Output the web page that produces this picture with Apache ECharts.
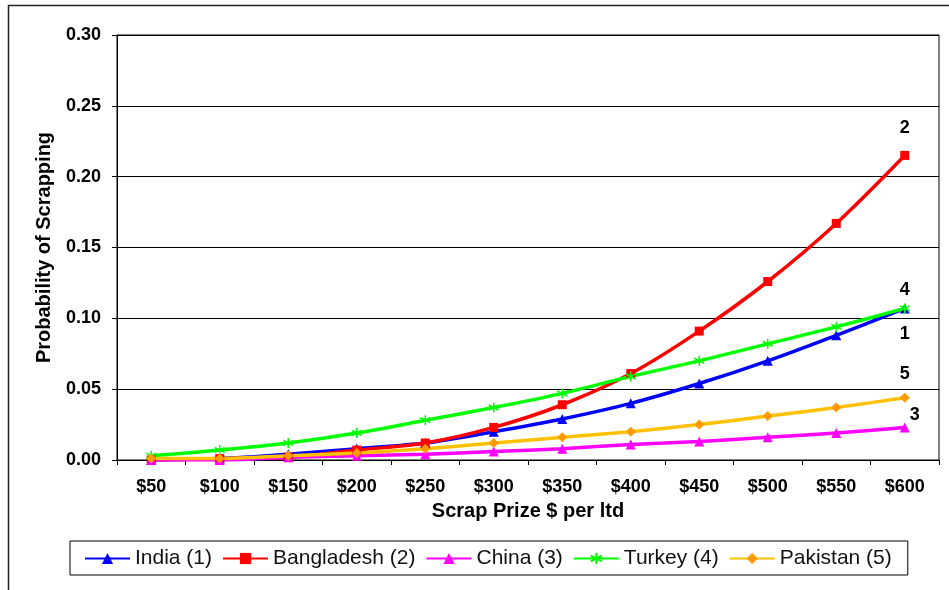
<!DOCTYPE html>
<html>
<head>
<meta charset="utf-8">
<script src="https://cdn.jsdelivr.net/npm/echarts@6/dist/echarts.min.js"></script>
<style>
  html, body { margin: 0; padding: 0; background: #fff; }
  #chart { width: 949px; height: 590px; }
</style>
</head>
<body>
<div id="chart"></div>
<script>
// Scrap price categories along the x axis
const prices = ['$50', '$100', '$150', '$200', '$250', '$300', '$350', '$400', '$450', '$500', '$550', '$600'];

// Probability of scrapping per country
const india      = [0.000, 0.001, 0.004, 0.008, 0.012, 0.020, 0.029, 0.040, 0.054, 0.070, 0.088, 0.107];
const bangladesh = [0.000, 0.001, 0.002, 0.007, 0.012, 0.023, 0.039, 0.061, 0.091, 0.126, 0.167, 0.215];
const china      = [0.000, 0.000, 0.002, 0.003, 0.004, 0.006, 0.008, 0.011, 0.013, 0.016, 0.019, 0.023];
const turkey     = [0.003, 0.007, 0.012, 0.019, 0.028, 0.037, 0.047, 0.059, 0.070, 0.082, 0.094, 0.107];
const pakistan   = [0.001, 0.001, 0.003, 0.005, 0.008, 0.012, 0.016, 0.020, 0.025, 0.031, 0.037, 0.044];

const yTicks = { min: 0, max: 0.30, step: 0.05 };

const FONT = 'Liberation Sans, Arial, sans-serif';
const asterisk = 'path://M0,-5L0,5M-4.5,-2.6L4.5,2.6M-4.5,2.6L4.5,-2.6';

// Put a small id number next to the final point of a series
function withEndTag(values, tag, labelOpts) {
  return values.map((v, i) => i === values.length - 1
    ? { value: v, label: Object.assign({ show: true, formatter: tag, color: '#000',
        fontFamily: FONT, fontWeight: 'bold', fontSize: 18 }, labelOpts) }
    : v);
}

function lineSeries(name, color, symbol, size, values, tag, labelOpts, extraItem) {
  return {
    name, type: 'line', smooth: 0.3,
    symbol, symbolSize: size,
    lineStyle: { color, width: 3.5 },
    itemStyle: Object.assign({ color }, extraItem || {}),
    data: withEndTag(values, tag, labelOpts),
    z: 3
  };
}

const chart = echarts.init(document.getElementById('chart'), null, { renderer: 'canvas' });

chart.setOption({
  animation: false,
  backgroundColor: '#fff',
  textStyle: { fontFamily: FONT },
  graphic: [{
    type: 'rect', silent: true, z: -10,
    shape: { x: 8.5, y: 5.5, width: 980, height: 620 },
    style: { fill: 'none', stroke: '#222', lineWidth: 1.5 }
  }],
  grid: {
    left: 117, top: 35, right: 10, bottom: 130,
    show: true, borderColor: '#000', borderWidth: 1, backgroundColor: 'transparent'
  },
  legend: {
    top: 541, left: 70,
    padding: [7, 16, 6, 14],
    itemGap: 10,
    itemWidth: 45, itemHeight: 14,
    borderColor: '#000', borderWidth: 1,
    textStyle: { fontFamily: FONT, fontSize: 21, color: '#111' },
    data: ['India (1)', 'Bangladesh (2)', 'China (3)', 'Turkey (4)', 'Pakistan (5)']
  },
  xAxis: {
    type: 'category',
    data: prices,
    boundaryGap: true,
    name: 'Scrap Prize $ per ltd',
    nameLocation: 'middle',
    nameGap: 41,
    nameTextStyle: { fontFamily: FONT, fontWeight: 'bold', fontSize: 20, color: '#000',
      verticalAlign: 'top' },
    axisLine: { lineStyle: { color: '#000', width: 1 } },
    axisTick: { show: true, length: 5, lineStyle: { color: '#000' }, alignWithLabel: false },
    axisLabel: { fontFamily: FONT, fontWeight: 'bold', fontSize: 18, color: '#000', margin: 18 },
    splitLine: { show: false }
  },
  yAxis: {
    type: 'value',
    min: yTicks.min, max: yTicks.max, interval: yTicks.step,
    name: 'Probability of Scrapping',
    nameLocation: 'middle',
    nameGap: 63,
    nameTextStyle: { fontFamily: FONT, fontWeight: 'bold', fontSize: 20, color: '#000' },
    axisLine: { show: true, lineStyle: { color: '#000', width: 1 } },
    axisTick: { show: true, inside: false, length: 5, lineStyle: { color: '#000' } },
    axisLabel: { fontFamily: FONT, fontWeight: 'bold', fontSize: 18, color: '#000', margin: 16,
      formatter: v => v.toFixed(2) },
    splitLine: { show: true, lineStyle: { color: '#000', width: 1 } }
  },
  series: [
    lineSeries('India (1)', '#0000ff', 'triangle', 10, india, '1',
      { position: 'bottom', distance: 12 }),
    lineSeries('Bangladesh (2)', '#ff0000', 'rect', 9, bangladesh, '2',
      { position: 'top', distance: 14 }),
    lineSeries('China (3)', '#ff00ff', 'triangle', 10, china, '3',
      { position: 'top', distance: -2, offset: [10, 0] }),
    lineSeries('Turkey (4)', '#00ff00', asterisk, 10, turkey, '4',
      { position: 'top', distance: 4 }, { borderColor: '#00ff00', borderWidth: 1.5 }),
    lineSeries('Pakistan (5)', '#ffc000', 'diamond', 10, pakistan, '5',
      { position: 'top', distance: 10 }, { color: '#ff9900' })
  ]
});
</script>
</body>
</html>
